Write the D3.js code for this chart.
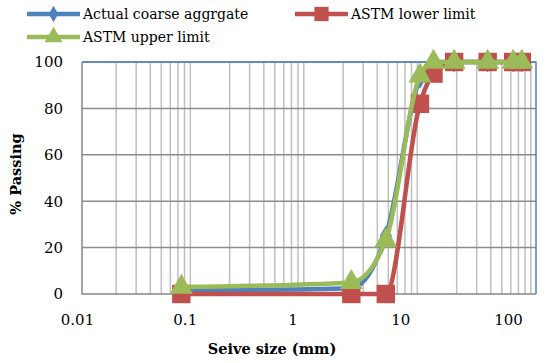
<!DOCTYPE html>
<html><head><meta charset="utf-8">
<script src="https://cdn.jsdelivr.net/npm/d3@7"></script>
<style>body{margin:0;background:#fff}svg{display:block}text{font-family:"DejaVu Serif",serif;fill:#000}</style>
</head><body><div id="chart"></div>
<script>
const sizes = [0.075, 2.36, 4.75, 9.5, 12.5, 19, 37.5, 63, 75];
const actual = [1.5, 2.5, 25, 93, 100, 100, 100, 100, 100];
const lower = [0, 0, 0, 82, 95, 100, 100, 100, 100];
const upper = [3, 5, 23, 94, 100, 100, 100, 100, 100];
const seriesNames = ["Actual coarse aggrgate", "ASTM lower limit", "ASTM upper limit"];
const xTicks = [0.01, 0.1, 1, 10, 100];
const yTicks = [0, 20, 40, 60, 80, 100];

const W = 552, H = 363;
const svg = d3.select("#chart").append("svg").attr("width", W).attr("height", H);
const x = d3.scaleLog().domain([0.01, 100]).range([82, 536]);
const xl = d3.scaleLog().domain([0.01, 100]).range([77, 508]);
const y = d3.scaleLinear().domain([0, 100]).range([294, 62]);

const minor = [];
[0.01, 0.1, 1, 10].forEach(d => { for (let k = 2; k <= 9; k++) minor.push(d * k); });
svg.append("g").selectAll("line").data(minor).join("line")
  .attr("x1", d => x(d)).attr("x2", d => x(d)).attr("y1", y(0)).attr("y2", y(100))
  .attr("stroke", "#bfbfbf").attr("stroke-width", 1.5);
svg.append("g").selectAll("line").data(yTicks.slice(1)).join("line")
  .attr("x1", x(0.01)).attr("x2", x(100)).attr("y1", d => y(d)).attr("y2", d => y(d))
  .attr("stroke", "#8c8c8c").attr("stroke-width", 1.5);
svg.append("path").attr("d", `M${x(0.01)},${y(100)}H${x(100)}V${y(0)}`)
  .attr("fill", "none").attr("stroke", "#4f81bd").attr("stroke-width", 1.5);
svg.append("path").attr("d", `M${x(0.01)},${y(100)}V${y(0)}H${x(100)}`)
  .attr("fill", "none").attr("stroke", "#868686").attr("stroke-width", 1.5);

const ya = svg.append("g").attr("transform", `translate(${x(0.01) - 19},0)`)
  .call(d3.axisLeft(y).tickValues(yTicks).tickSize(0).tickPadding(0));
ya.select(".domain").remove();
ya.selectAll("text").style("font-family", '"DejaVu Serif",serif').style("font-size", "15px").attr("fill", "#000");
const xa = svg.append("g").attr("transform", `translate(0,${y(0) + 20})`)
  .call(d3.axisBottom(xl).tickValues(xTicks).tickFormat(d3.format("~g")).tickSize(0).tickPadding(0));
xa.select(".domain").remove();
xa.selectAll("text").style("font-family", '"DejaVu Serif",serif').style("font-size", "15px").attr("fill", "#000");

svg.append("text").attr("x", 272).attr("y", 354).attr("text-anchor", "middle")
  .style("font-size", "14.5px").style("font-weight", "bold").text("Seive size (mm)");
svg.append("text").attr("transform", "translate(21,174) rotate(-90)").attr("text-anchor", "middle")
  .style("font-size", "14.5px").style("font-weight", "bold").text("% Passing");

const colors = ["#4f81bd", "#c0504d", "#9bbb59"];
const symbols = [d3.symbolDiamond, d3.symbolSquare, d3.symbolTriangle];
const symSize = [130, 340, 230];
const data = [actual, lower, upper];
const line = d3.line().x(d => x(d[0])).y(d => y(d[1])).curve(d3.curveMonotoneX);

data.forEach((vals, i) => {
  const pts = sizes.map((s, j) => [s, vals[j]]);
  const g = svg.append("g");
  g.append("path").datum(pts).attr("d", line).attr("fill", "none")
    .attr("stroke", colors[i]).attr("stroke-width", 4.5).attr("stroke-linejoin", "round");
  g.selectAll("path.m").data(pts).join("path").attr("class", "m")
    .attr("transform", d => `translate(${x(d[0])},${y(d[1])})`)
    .attr("d", d3.symbol(symbols[i], symSize[i])).attr("fill", colors[i]);
});

const leg = [[27, 14], [295, 14], [27, 37]];
leg.forEach((p, i) => {
  const g = svg.append("g").attr("transform", `translate(${p[0]},${p[1]})`);
  g.append("line").attr("x1", 0).attr("x2", 53).attr("stroke", colors[i]).attr("stroke-width", 4.5);
  g.append("path").attr("transform", "translate(26.5,0)").attr("d", d3.symbol(symbols[i], symSize[i] * 0.6)).attr("fill", colors[i]);
  g.append("text").attr("x", 56).attr("y", 5).style("font-size", "14px").text(seriesNames[i]);
});
</script></body></html>
